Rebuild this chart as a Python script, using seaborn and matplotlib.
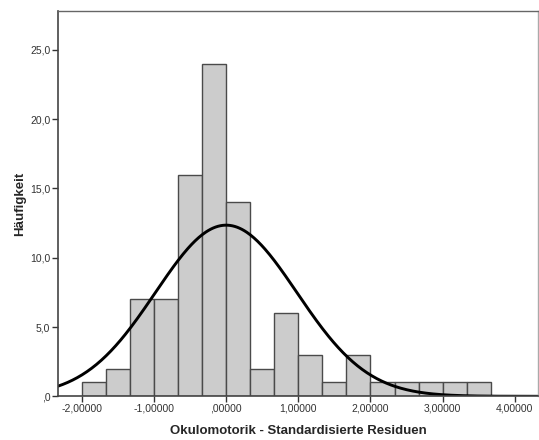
import numpy as np
import pandas as pd
import matplotlib
matplotlib.use("Agg")
import matplotlib.pyplot as plt
import seaborn as sns
from matplotlib.ticker import FuncFormatter

# Histogram of standardized residuals (bin edges and counts per bin)
bin_edges = [-2.0, -5/3, -4/3, -1.0, -2/3, -1/3, 0.0, 1/3, 2/3, 1.0,
             4/3, 5/3, 2.0, 7/3, 8/3, 3.0, 10/3, 11/3]
bin_counts = [1, 2, 7, 7, 16, 24, 14, 2, 6, 3, 1, 3, 1, 1, 1, 1, 1]

# Fitted normal curve parameters
curve_mean = 0.0
curve_sd = 0.98

x_ticks = [-2.0, -1.0, 0.0, 1.0, 2.0, 3.0, 4.0]
y_ticks = [0, 5, 10, 15, 20, 25]

x_label = "Okulomotorik - Standardisierte Residuen"
y_label = "Häufigkeit"

sns.set_style("white")
plt.rcParams["font.family"] = ["Liberation Sans", "DejaVu Sans"]

fig = plt.figure(figsize=(5.39, 4.40), dpi=100)
ax = fig.add_axes([0.1076, 0.0993, 0.8904, 0.8757])

centers = [(bin_edges[i] + bin_edges[i + 1]) / 2 for i in range(len(bin_counts))]
df = pd.DataFrame({"res": centers, "n": bin_counts})
sns.histplot(data=df, x="res", weights="n", bins=bin_edges, ax=ax,
             color="#cccccc", edgecolor="#4a4a4a", linewidth=1.0, alpha=1.0)

xmin, xmax = -2.33, 4.32
n_total = sum(bin_counts)
width = bin_edges[1] - bin_edges[0]
xs = np.linspace(xmin, xmax, 400)
ys = n_total * width / (curve_sd * np.sqrt(2 * np.pi)) * np.exp(-0.5 * ((xs - curve_mean) / curve_sd) ** 2)
sns.lineplot(x=xs, y=ys, ax=ax, color="black", linewidth=2.1)

ax.set_xlim(xmin, xmax)
ax.set_ylim(0, 27.8)
ax.set_xticks(x_ticks)
ax.set_yticks(y_ticks)


def de_fmt(decimals):
    def f(v, pos):
        s = f"{v:.{decimals}f}".replace(".", ",")
        if s.startswith("0,"):
            s = s[1:]
        elif s.startswith("-0,"):
            s = "-" + s[2:]
        return s
    return f


ax.xaxis.set_major_formatter(FuncFormatter(de_fmt(5)))
ax.yaxis.set_major_formatter(FuncFormatter(de_fmt(1)))

ax.tick_params(axis="both", which="major", direction="out", length=4, width=1,
               color="#333333", labelsize=7.5, labelcolor="#333333", pad=1.5,
               left=True, bottom=True)

for side in ["left", "bottom"]:
    ax.spines[side].set_color("#444444")
    ax.spines[side].set_linewidth(1.2)
ax.spines["top"].set_color("#666666")
ax.spines["right"].set_color("#aaaaaa")
ax.spines["top"].set_linewidth(1.0)
ax.spines["right"].set_linewidth(1.0)

ax.set_xlabel(x_label, fontsize=9.5, fontweight="bold", labelpad=8)
ax.set_ylabel(y_label, fontsize=9.5, fontweight="bold", labelpad=3)

fig.savefig("out.png", dpi=100)
